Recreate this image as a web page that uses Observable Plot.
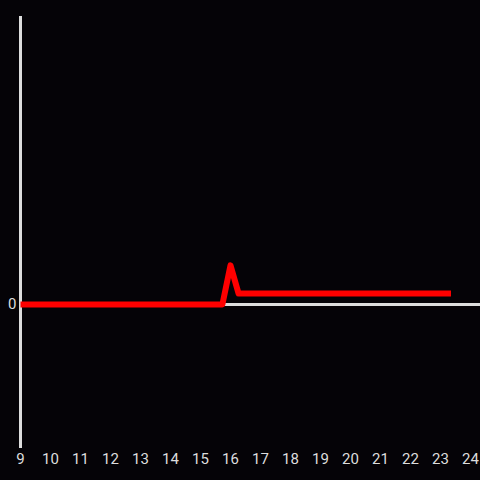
<!DOCTYPE html>
<html><head><meta charset="utf-8">
<script src="https://cdn.jsdelivr.net/npm/d3@7"></script>
<script src="https://cdn.jsdelivr.net/npm/@observablehq/plot@0.6"></script>
<style>
html,body{margin:0;padding:0;background:#050307;}
</style>
</head><body>
<div id="chart"></div>
<script>
const xs = [9, 15.73, 16.0, 16.27, 23.35];
const ys = [0, 0, 0.272, 0.076, 0.076];
const xTicks = [9,10,11,12,13,14,15,16,17,18,19,20,21,22,23,24];
const yTicks = [0];
const data = xs.map((x, i) => ({x, y: ys[i]}));

const chart = Plot.plot({
  width: 480,
  height: 480,
  marginLeft: 20,
  marginRight: 0,
  marginTop: 16,
  marginBottom: 32,
  style: {background: "#050307", color: "#dddddd", fontSize: "15px", fontFamily: "Roboto, sans-serif"},
  x: {domain: [9, 24], range: [20, 470], ticks: xTicks, tickFormat: d => String(d), tickSize: 0, tickPadding: 5, label: null},
  y: {domain: [-1, 2], ticks: yTicks, tickFormat: d => String(d), tickSize: 0, tickPadding: 4, label: null},
  marks: [
    Plot.ruleY([0], {stroke: "#dddddd", strokeWidth: 3}),
    Plot.ruleX([9], {stroke: "#dddddd", strokeWidth: 3}),
    Plot.line(data, {x: "x", y: "y", stroke: "#ff0000", strokeWidth: 6, strokeLinecap: "butt", strokeLinejoin: "round"})
  ]
});
document.getElementById("chart").appendChild(chart);
</script>
</body></html>
